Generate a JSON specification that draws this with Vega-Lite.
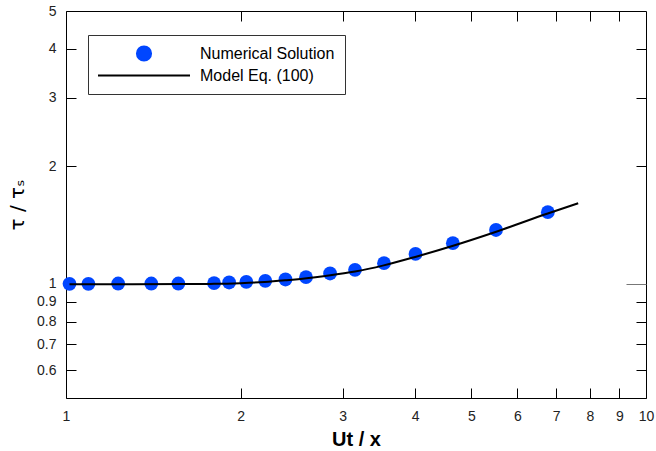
{
  "$schema": "https://vega.github.io/schema/vega-lite/v6.json",
  "width": 580,
  "height": 387,
  "autosize": {"type": "none"},
  "padding": {"left": 66, "top": 11, "right": 10, "bottom": 53},
  "background": "white",
  "config": {
    "font": "Liberation Sans",
    "view": {"stroke": "#000", "strokeWidth": 1},
    "axis": {"grid": false, "domain": false, "tickColor": "#000", "tickWidth": 1, "labelColor": "#222", "labelFont": "Liberation Sans", "labelFontSize": 14, "labelFlush": false, "labelOverlap": false, "labelBound": false}
  },
  "datasets": {
    "num": [
      {"x": 1.014, "y": 1.0, "series": "Numerical Solution"},
      {"x": 1.093, "y": 1.0, "series": "Numerical Solution"},
      {"x": 1.23, "y": 1.002, "series": "Numerical Solution"},
      {"x": 1.403, "y": 1.002, "series": "Numerical Solution"},
      {"x": 1.562, "y": 1.002, "series": "Numerical Solution"},
      {"x": 1.8, "y": 1.004, "series": "Numerical Solution"},
      {"x": 1.911, "y": 1.008, "series": "Numerical Solution"},
      {"x": 2.046, "y": 1.012, "series": "Numerical Solution"},
      {"x": 2.206, "y": 1.018, "series": "Numerical Solution"},
      {"x": 2.39, "y": 1.026, "series": "Numerical Solution"},
      {"x": 2.593, "y": 1.04, "series": "Numerical Solution"},
      {"x": 2.853, "y": 1.063, "series": "Numerical Solution"},
      {"x": 3.15, "y": 1.086, "series": "Numerical Solution"},
      {"x": 3.534, "y": 1.13, "series": "Numerical Solution"},
      {"x": 4.005, "y": 1.193, "series": "Numerical Solution"},
      {"x": 4.645, "y": 1.271, "series": "Numerical Solution"},
      {"x": 5.513, "y": 1.374, "series": "Numerical Solution"},
      {"x": 6.772, "y": 1.526, "series": "Numerical Solution"}
    ],
    "model": [
      {"x": 1.014, "y": 0.998, "series": "Model Eq. (100)"},
      {"x": 1.3, "y": 0.998, "series": "Model Eq. (100)"},
      {"x": 1.6, "y": 0.999, "series": "Model Eq. (100)"},
      {"x": 1.8, "y": 1.0, "series": "Model Eq. (100)"},
      {"x": 2.0, "y": 1.004, "series": "Model Eq. (100)"},
      {"x": 2.2, "y": 1.011, "series": "Model Eq. (100)"},
      {"x": 2.4, "y": 1.022, "series": "Model Eq. (100)"},
      {"x": 2.6, "y": 1.034, "series": "Model Eq. (100)"},
      {"x": 2.8, "y": 1.048, "series": "Model Eq. (100)"},
      {"x": 3.15, "y": 1.075, "series": "Model Eq. (100)"},
      {"x": 3.53, "y": 1.115, "series": "Model Eq. (100)"},
      {"x": 4.0, "y": 1.172, "series": "Model Eq. (100)"},
      {"x": 4.65, "y": 1.252, "series": "Model Eq. (100)"},
      {"x": 5.5, "y": 1.358, "series": "Model Eq. (100)"},
      {"x": 6.77, "y": 1.514, "series": "Model Eq. (100)"},
      {"x": 7.64, "y": 1.608, "series": "Model Eq. (100)"}
    ]
  },
  "resolve": {"axis": {"x": "independent", "y": "independent"}},
  "layer": [
    {
      "data": {"name": "num"},
      "mark": {"type": "point", "filled": true, "size": 190, "opacity": 1, "strokeWidth": 0},
      "encoding": {
        "x": {"field": "x", "type": "quantitative",
          "scale": {"type": "log", "domain": [1, 10], "nice": false},
          "axis": {"orient": "bottom", "values": [1, 2, 3, 4, 5, 6, 7, 8, 9, 10], "format": "~g", "tickSize": -10, "labelPadding": 21, "title": "Ut / x", "titleFont": "Liberation Sans", "titleFontSize": 20, "titleFontWeight": "bold", "titleColor": "#000", "titlePadding": 6}},
        "y": {"field": "y", "type": "quantitative",
          "scale": {"type": "log", "domain": [0.51, 5], "nice": false},
          "axis": {"orient": "left", "values": [0.6, 0.7, 0.8, 0.9, 1, 2, 3, 4, 5], "format": ".1~f", "tickSize": -10, "labelPadding": 20, "title": "τ / τₛ", "titleFont": "DejaVu Sans", "titleFontSize": 20, "titleFontWeight": "normal", "titleColor": "#000", "titlePadding": 9}},
        "color": {"field": "series", "type": "nominal",
          "scale": {"domain": ["Numerical Solution", "Model Eq. (100)"], "range": ["#0046ff", "#000000"]},
          "legend": {"title": null, "orient": "none", "legendX": 22, "legendY": 24, "direction": "vertical",
            "strokeColor": "#333", "fillColor": "white", "padding": 10, "labelOffset": 85,
            "labelFont": "Liberation Sans", "labelFontSize": 16, "labelColor": "#000", "rowPadding": 2,
            "encode": {"symbols": {"update": {
              "x": {"value": 46},
              "shape": {"signal": "datum.value === 'Model Eq. (100)' ? 'stroke' : 'circle'"},
              "size": {"signal": "datum.value === 'Model Eq. (100)' ? 8464 : 200"},
              "fill": {"signal": "datum.value === 'Model Eq. (100)' ? 'transparent' : '#0046ff'"},
              "stroke": {"signal": "datum.value === 'Model Eq. (100)' ? '#000' : 'transparent'"},
              "strokeWidth": {"value": 2},
              "opacity": {"value": 1}
            }}}}}
      }
    },
    {
      "data": {"name": "model"},
      "mark": {"type": "line", "strokeWidth": 2, "interpolate": "monotone"},
      "encoding": {
        "x": {"field": "x", "type": "quantitative",
          "axis": {"orient": "top", "values": [2, 3, 4, 5, 6, 7, 8, 9], "labels": false, "tickSize": -10, "title": null}},
        "y": {"field": "y", "type": "quantitative",
          "axis": {"orient": "right", "values": [0.6, 0.7, 0.8, 0.9, 1, 2, 3, 4], "labels": false, "title": null,
            "tickSize": {"condition": {"test": "datum.value === 1", "value": -20}, "value": -10},
            "tickColor": {"condition": {"test": "datum.value === 1", "value": "#777"}, "value": "#000"}}},
        "color": {"field": "series", "type": "nominal",
          "legend": {"title": null, "orient": "none", "legendX": 22, "legendY": 24, "direction": "vertical",
            "strokeColor": "#333", "fillColor": "white", "padding": 10, "labelOffset": 85,
            "labelFont": "Liberation Sans", "labelFontSize": 16, "labelColor": "#000", "rowPadding": 2,
            "encode": {"symbols": {"update": {
              "x": {"value": 46},
              "shape": {"signal": "datum.value === 'Model Eq. (100)' ? 'stroke' : 'circle'"},
              "size": {"signal": "datum.value === 'Model Eq. (100)' ? 8464 : 200"},
              "fill": {"signal": "datum.value === 'Model Eq. (100)' ? 'transparent' : '#0046ff'"},
              "stroke": {"signal": "datum.value === 'Model Eq. (100)' ? '#000' : 'transparent'"},
              "strokeWidth": {"value": 2},
              "opacity": {"value": 1}
            }}}}}
      }
    }
  ]
}
